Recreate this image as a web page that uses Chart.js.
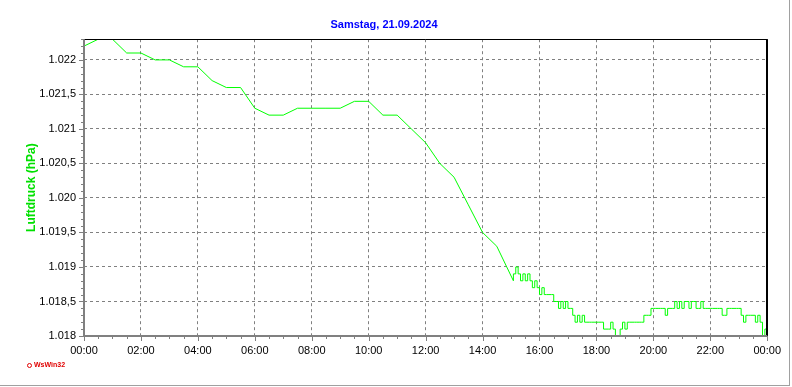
<!DOCTYPE html>
<html>
<head>
<meta charset="utf-8">
<title>Luftdruck</title>
<script src="https://cdn.jsdelivr.net/npm/chart.js@4.4.1/dist/chart.umd.min.js"></script>
<style>
  html, body { margin: 0; padding: 0; background: #fff; }
  #frame { position: relative; width: 789px; height: 385px; border-right: 1px solid #a0a0a0; border-bottom: 1px solid #a0a0a0; }
  #druckChart { display: block; }
  #logo { position: absolute; left: 27px; top: 361px; font: bold 7px 'Liberation Sans', Arial, sans-serif; color: #e00000; white-space: nowrap; }
  #logo .ring { display: inline-block; width: 3px; height: 3px; border: 1px solid #e00000; border-radius: 50%; margin-right: 2px; vertical-align: middle; }
</style>
</head>
<body>
<div id="frame">
  <canvas id="druckChart" width="789" height="385"></canvas>
  <div id="logo"><span class="ring"></span>WsWin32</div>
</div>
<script>
// Luftdruck-Tagesverlauf (hPa)
const titel = 'Samstag, 21.09.2024';
const achsenTitel = 'Luftdruck (hPa)';

// Uhrzeiten der Messwerte (vormittags 30 min, ab 15 Uhr 5 min)
const zeiten = [
  '00:00','00:30','01:00','01:30','02:00','02:30','03:00','03:30','04:00','04:30',
  '05:00','05:30','06:00','06:30','07:00','07:30','08:00','08:30','09:00','09:30',
  '10:00','10:30','11:00','11:30','12:00','12:30','12:45','13:00','13:30','14:00','14:30',
  '15:05','15:10','15:15','15:20','15:25','15:30','15:35','15:40','15:45','15:50','15:55',
  '16:00','16:05','16:10','16:15','16:20','16:25','16:30','16:35','16:40','16:45','16:50','16:55',
  '17:00','17:05','17:10','17:15','17:20','17:25','17:30','17:35','17:40','17:45','17:50','17:55',
  '18:00','18:05','18:10','18:15','18:20','18:25','18:30','18:35','18:40','18:45','18:50','18:55',
  '19:00','19:05','19:10','19:15','19:20','19:25','19:30','19:35','19:40','19:45','19:50','19:55',
  '20:00','20:05','20:10','20:15','20:20','20:25','20:30','20:35','20:40','20:45','20:50','20:55',
  '21:00','21:05','21:10','21:15','21:20','21:25','21:30','21:35','21:40','21:45','21:50','21:55',
  '22:00','22:05','22:10','22:15','22:20','22:25','22:30','22:35','22:40','22:45','22:50','22:55',
  '23:00','23:05','23:10','23:15','23:20','23:25','23:30','23:35','23:40','23:45','23:50','23:55',
  '24:00'
];

const luftdruck = [
  1022.2,1022.3,1022.3,1022.1,1022.1,1022.0,1022.0,1021.9,1021.9,1021.7,
  1021.6,1021.6,1021.3,1021.2,1021.2,1021.3,1021.3,1021.3,1021.3,1021.4,
  1021.4,1021.2,1021.2,1021.0,1020.8,1020.5,1020.4,1020.3,1019.9,1019.5,1019.3,
  1018.8,1018.9,1019.0,1018.9,1018.8,1018.9,1018.8,1018.9,1018.8,1018.7,1018.8,
  1018.7,1018.6,1018.7,1018.6,1018.6,1018.6,1018.6,1018.5,1018.5,1018.4,1018.5,1018.4,
  1018.5,1018.4,1018.4,1018.3,1018.2,1018.3,1018.2,1018.3,1018.2,1018.2,1018.2,1018.2,
  1018.2,1018.2,1018.2,1018.2,1018.1,1018.1,1018.1,1018.2,1018.1,1018.0,1018.0,1018.1,
  1018.2,1018.1,1018.2,1018.2,1018.2,1018.2,1018.2,1018.2,1018.2,1018.3,1018.3,1018.3,
  1018.4,1018.4,1018.4,1018.4,1018.4,1018.4,1018.3,1018.4,1018.4,1018.4,1018.5,1018.4,
  1018.5,1018.4,1018.5,1018.5,1018.4,1018.5,1018.5,1018.4,1018.4,1018.5,1018.4,1018.4,
  1018.4,1018.4,1018.4,1018.4,1018.4,1018.4,1018.3,1018.3,1018.4,1018.4,1018.4,1018.4,
  1018.4,1018.4,1018.3,1018.2,1018.3,1018.3,1018.3,1018.3,1018.2,1018.3,1018.2,1018.0,
  1018.1
];

// ab diesem Messwert (15:05) sind die Daten fein aufgeloest -> Treppenlinie
const feinAb = 31;

// Achsen
const xTickStunden = [0, 2, 4, 6, 8, 10, 12, 14, 16, 18, 20, 22, 24];
const xTickLabels = ['00:00','02:00','04:00','06:00','08:00','10:00','12:00','14:00','16:00','18:00','20:00','22:00','00:00'];
const yTicks = [1018, 1018.5, 1019, 1019.5, 1020, 1020.5, 1021, 1021.5, 1022];
const yMin = 1018;
const yMax = 1022.3;

const schrift = "'Liberation Sans', Arial, sans-serif";

function zuMinuten(t) {
    const [h, m] = t.split(':').map(Number);
    return h * 60 + m;
}

// 1018.5 -> "1.018,5"
function formatDe(v) {
    const [ganz, dez] = v.toFixed(1).split('.');
    const g = ganz.replace(/\B(?=(\d{3})+(?!\d))/g, '.');
    return dez === '0' ? g : g + ',' + dez;
}

// Achsenlinien, Rahmen und Teilstriche
const achsenRahmen = {
    id: 'achsenRahmen',
    afterDatasetsDraw(chart) {
        const { ctx, chartArea: a, scales } = chart;
        const xs = scales.x, ys = scales.y;
        ctx.save();
        ctx.setLineDash([]);

        // Rahmen oben / rechts schwarz
        ctx.strokeStyle = '#000';
        ctx.lineWidth = 1;
        ctx.beginPath();
        ctx.moveTo(a.left, Math.round(a.top) + 0.5);
        ctx.lineTo(a.right, Math.round(a.top) + 0.5);
        ctx.stroke();
        ctx.lineWidth = 2;
        ctx.beginPath();
        ctx.moveTo(Math.round(a.right), a.top);
        ctx.lineTo(Math.round(a.right), a.bottom);
        ctx.stroke();

        // Teilstriche
        ctx.strokeStyle = '#808080';
        ctx.lineWidth = 1;
        ctx.beginPath();
        for (let k = 0; k <= 43; k++) {
            const y = Math.round(ys.getPixelForValue(yMin + k / 10)) + 0.5;
            const len = (k % 5 === 0) ? 5 : 3;
            ctx.moveTo(a.left - len, y);
            ctx.lineTo(a.left, y);
        }
        for (let k = 0; k <= 48; k++) {
            const x = Math.round(xs.getPixelForValue(k * 30)) + 0.5;
            const len = (k % 4 === 0) ? 5 : 3;
            ctx.moveTo(x, a.bottom);
            ctx.lineTo(x, a.bottom + len);
        }
        ctx.stroke();

        // Achsen links / unten grau
        ctx.lineWidth = 2;
        ctx.beginPath();
        ctx.moveTo(Math.round(a.left), a.top);
        ctx.lineTo(Math.round(a.left), Math.round(a.bottom) + 1);
        ctx.moveTo(a.left, Math.round(a.bottom));
        ctx.lineTo(a.right, Math.round(a.bottom));
        ctx.stroke();
        ctx.restore();
    }
};

const punkte = zeiten.map((t, i) => ({ x: zuMinuten(t), y: luftdruck[i] }));

const linie = { borderColor: '#00ff00', borderWidth: 1, pointRadius: 0, tension: 0, fill: false };

new Chart(document.getElementById('druckChart'), {
    type: 'line',
    data: {
        datasets: [
            { ...linie, label: achsenTitel, data: punkte.slice(0, feinAb + 1) },
            { ...linie, label: achsenTitel, data: punkte.slice(feinAb), stepped: 'after' }
        ]
    },
    options: {
        responsive: false,
        animation: false,
        layout: { padding: { left: 0, right: 21, top: 0, bottom: 0 } },
        plugins: {
            legend: { display: false },
            tooltip: { enabled: false },
            title: {
                display: true,
                text: titel,
                color: '#0000ff',
                font: { family: schrift, size: 11, weight: 'bold' },
                padding: { top: 18, bottom: 8 }
            }
        },
        scales: {
            x: {
                type: 'linear',
                min: 0,
                max: 1440,
                afterBuildTicks: (s) => { s.ticks = xTickStunden.map(h => ({ value: h * 60 })); },
                afterFit: (s) => { s.height = 49; },
                ticks: {
                    color: '#000',
                    font: { family: schrift, size: 11 },
                    padding: 8,
                    maxRotation: 0,
                    autoSkip: false,
                    callback: (v, i) => xTickLabels[i]
                },
                grid: { color: '#808080', lineWidth: 1, drawTicks: false },
                border: { display: false, dash: [3, 3] }
            },
            y: {
                type: 'linear',
                min: yMin,
                max: yMax,
                afterBuildTicks: (s) => { s.ticks = yTicks.map(v => ({ value: v })); },
                afterFit: (s) => { s.width = 84; },
                ticks: {
                    color: '#000',
                    font: { family: schrift, size: 11 },
                    padding: 8,
                    autoSkip: false,
                    callback: (v) => formatDe(v)
                },
                grid: { color: '#808080', lineWidth: 1, drawTicks: false },
                border: { display: false, dash: [3, 3] },
                title: {
                    display: true,
                    text: achsenTitel,
                    color: '#00e000',
                    font: { family: schrift, size: 12, weight: 'bold' },
                    padding: { top: 24, bottom: 0 }
                }
            }
        }
    },
    plugins: [achsenRahmen]
});
</script>
</body>
</html>
